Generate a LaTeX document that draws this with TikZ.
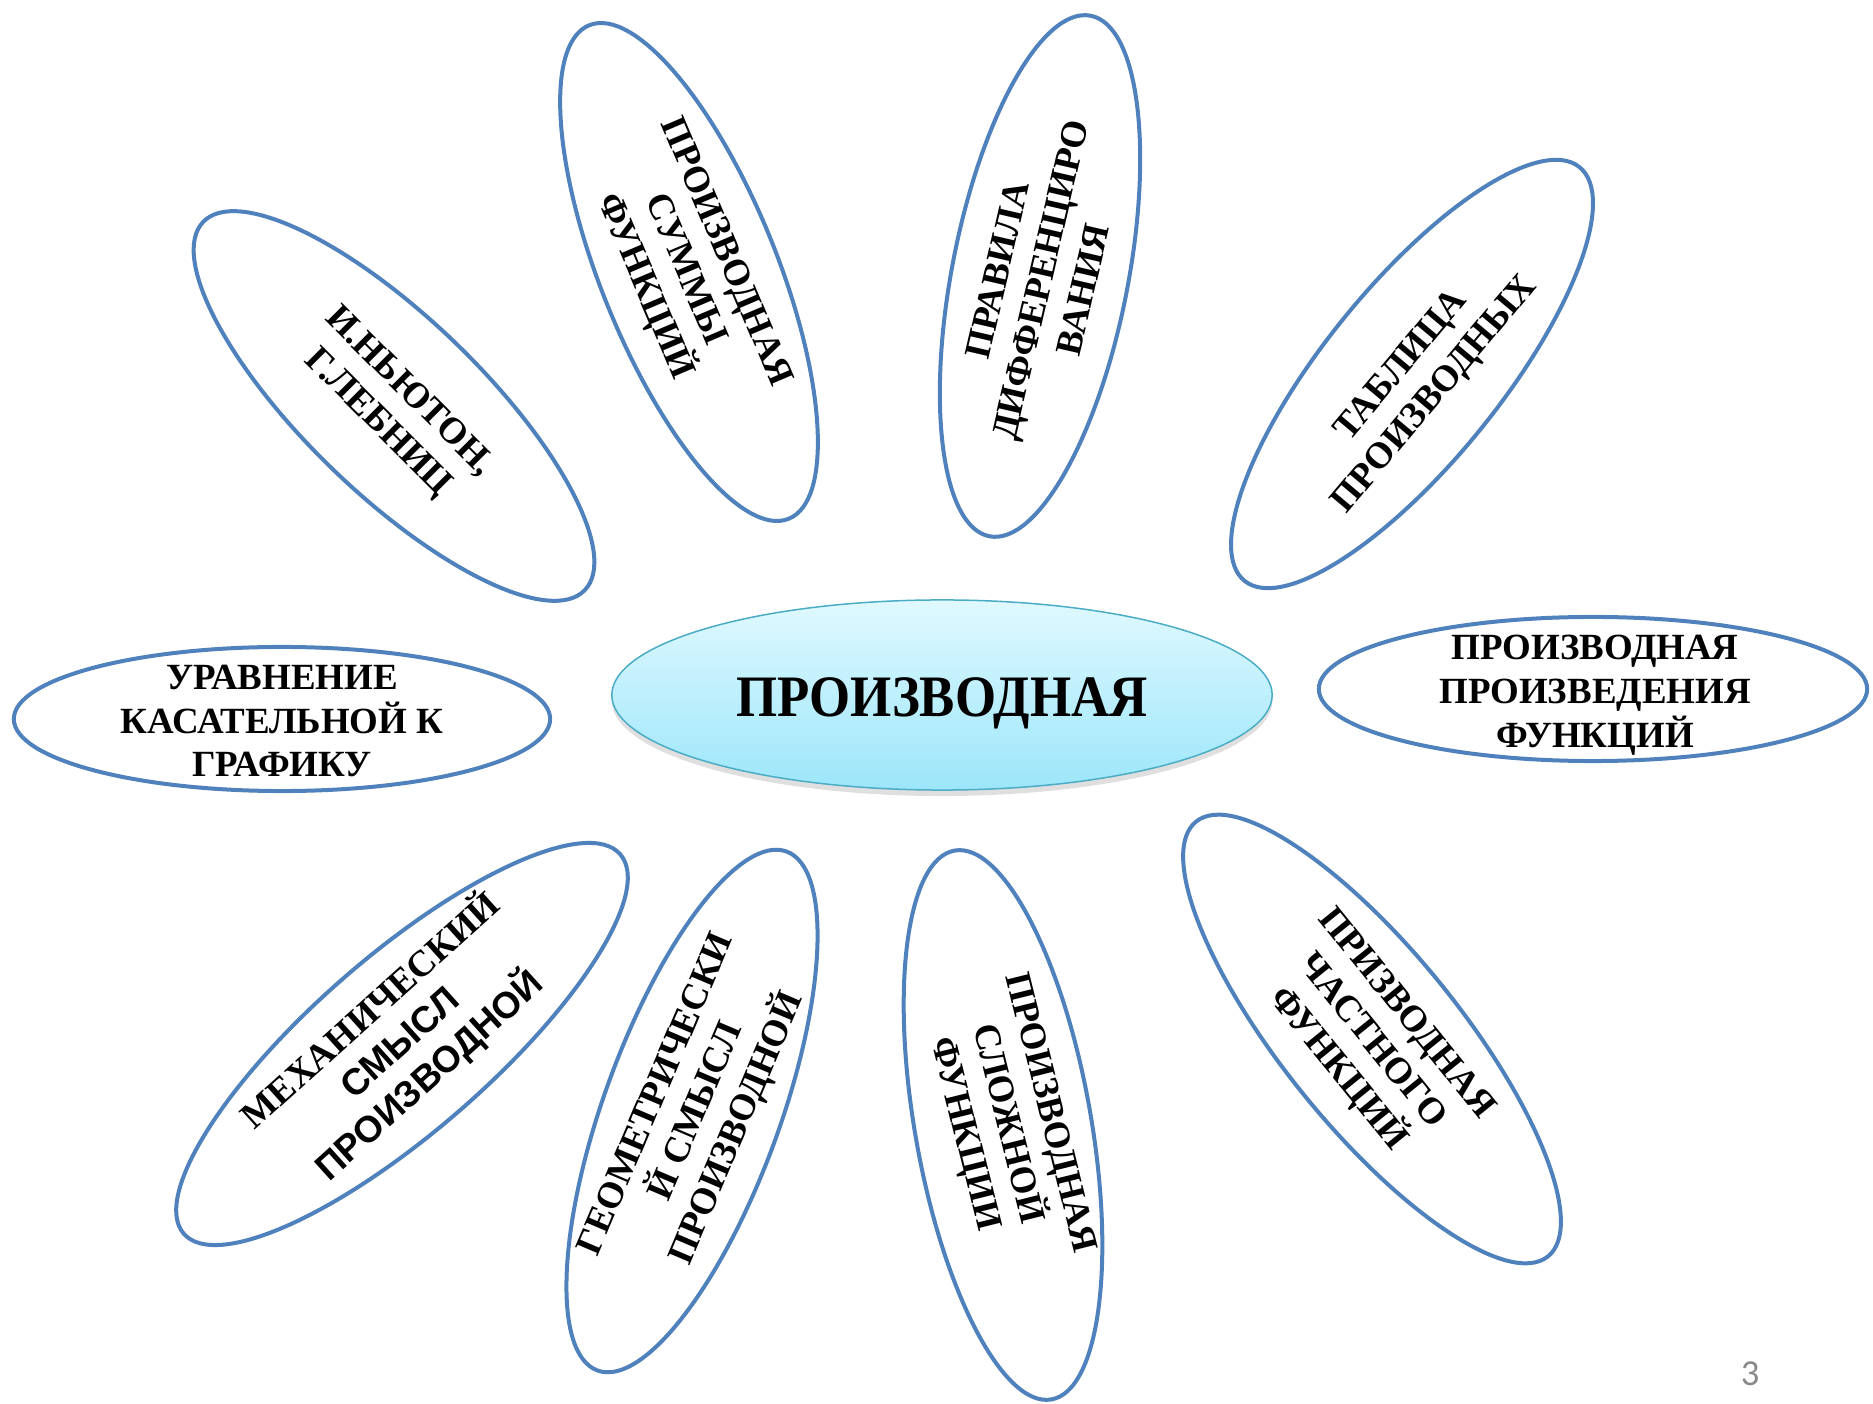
\documentclass[tikz,border=0pt]{standalone}
\usepackage{fontspec}
\setmainfont{Liberation Serif}
\newfontfamily\sansb{Liberation Sans}
\newfontfamily\pagefont{Carlito}
\usetikzlibrary{shapes.geometric,shadows}
\definecolor{petalblue}{RGB}{79,129,189}
\definecolor{coreline}{RGB}{75,172,198}
\definecolor{coretop}{RGB}{224,249,255}
\definecolor{corebot}{RGB}{156,230,250}
\definecolor{pagegray}{RGB}{137,137,137}
\tikzset{
  petal/.style={ellipse, draw=petalblue, line width=0.04cm, fill=white, inner sep=0pt, minimum height=1.76cm},
  ptext/.style={font=\fontsize{10.5}{12.5}\selectfont\bfseries, align=center, inner sep=0pt},
  core/.style={ellipse, draw=coreline, line width=0.015cm, top color=coretop, bottom color=corebot,
    inner sep=0pt, minimum width=6.6cm, minimum height=1.9cm,
    drop shadow={shadow xshift=0cm, shadow yshift=-0.06cm, opacity=0.25, fill=black!50}},
}
\begin{document}
\begin{tikzpicture}[x=0.01cm,y=0.01cm]
\useasboundingbox (0,0) rectangle (1873,-1404);
% petals (shapes)
\node[petal, rotate=-44, minimum width=5.30cm] (p4) at (394,-406) {};
\node[petal, rotate=-68, minimum width=5.32cm] (p5) at (689,-272) {};
\node[petal, rotate=79, minimum width=5.30cm] (p6) at (1040,-276) {};
\node[petal, rotate=51, minimum width=5.32cm] (p7) at (1412,-374) {};
\node[petal, rotate=41, minimum width=5.78cm] (p8) at (402,-1044) {};
\node[petal, rotate=70, minimum width=5.52cm] (p9) at (692,-1111) {};
\node[petal, rotate=-80, minimum width=5.57cm] (p10) at (1003,-1125) {};
\node[petal, rotate=-51, minimum width=5.59cm] (p11) at (1372,-1039) {};
\node[petal, minimum width=5.36cm, minimum height=1.44cm] (pl) at (282,-719) {};
\node[petal, minimum width=5.48cm, minimum height=1.44cm] (pr) at (1593,-689) {};
\node[core] (pc) at (942,-695) {};
% texts
\node[ptext, rotate=-45] (t4) at (393,-408) {И.НЬЮТОН,\\Г.ЛЕБНИЦ};
\node[ptext, rotate=-67] (t5) at (684,-270) {ПРОИЗВОДНАЯ\\СУММЫ\\ФУНКЦИЙ};
\node[ptext, rotate=77] (t6) at (1040,-280) {ПРАВИЛА\\ДИФФЕРЕНЦИРО\\ВАНИЯ};
\node[ptext, rotate=50] (t7) at (1419,-381) {ТАБЛИЦА\\ПРОИЗВОДНЫХ};
\node[ptext, rotate=42] (t8) at (400,-1043) {МЕХАНИЧЕСКИЙ\\{\sansb СМЫСЛ}\\{\sansb ПРОИЗВОДНОЙ}};
\node[ptext, rotate=67] (t9) at (698,-1112) {ГЕОМЕТРИЧЕСКИ\\Й СМЫСЛ\\ПРОИЗВОДНОЙ};
\node[ptext, rotate=-76] (t10) at (1006,-1124) {ПРОИЗВОДНАЯ\\СЛОЖНОЙ\\ФУНКЦИИ};
\node[ptext, rotate=-51] (t11) at (1371,-1042) {ПРИЗВОДНАЯ\\ЧАСТНОГО\\ФУНКЦИЙ};
\node[ptext] (tl) at (282,-721) {УРАВНЕНИЕ\\КАСАТЕЛЬНОЙ К\\ГРАФИКУ};
\node[ptext] (tr) at (1595,-695) {ПРОИЗВОДНАЯ\\ПРОИЗВЕДЕНИЯ\\ФУНКЦИЙ};
\node[inner sep=0pt, font=\fontsize{16.7}{20}\selectfont\bfseries] (tc) at (942,-703) {\scalebox{0.9}[1]{ПРОИЗВОДНАЯ}};
\node[inner sep=0pt, text=pagegray, font=\pagefont\fontsize{10.4}{12}\selectfont] (pg) at (1750,-1374) {3};
\end{tikzpicture}
\end{document}
